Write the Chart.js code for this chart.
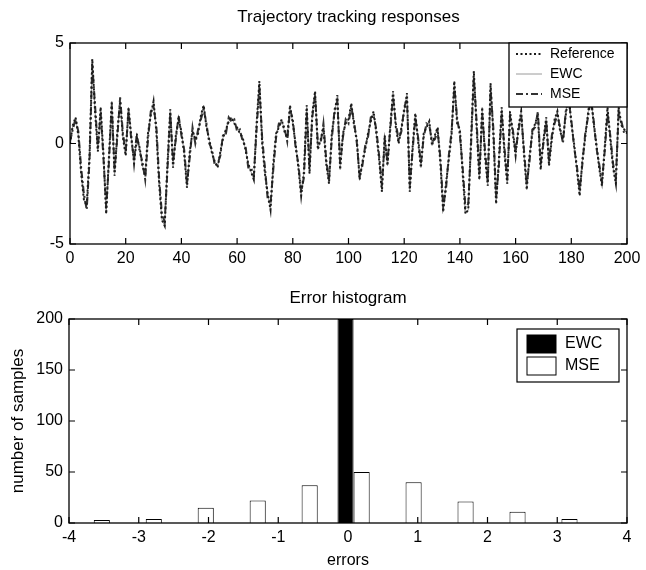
<!DOCTYPE html>
<html>
<head>
<meta charset="utf-8">
<style>
html,body{margin:0;padding:0;background:#fff;width:646px;height:570px;overflow:hidden}
.box{position:absolute;left:0;width:646px;height:285px}
</style>
<script src="https://cdn.jsdelivr.net/npm/chart.js@4.4.1/dist/chart.umd.min.js"></script>
</head>
<body>
<div class="box" style="top:0"><canvas id="c1" width="646" height="285"></canvas></div>
<div class="box" style="top:285px"><canvas id="c2" width="646" height="285"></canvas></div>
<script>
// ---------- DATA ----------
const timeSteps = Array.from({length: 201}, (_, i) => i);

const referenceValues = [
 0.0, 0.9, 1.3, 0.4,-1.5,-2.8,-3.1,-0.6, 4.2, 1.6,
-0.4, 1.8,-0.5,-3.5,-0.6, 2.1,-1.6, 0.6, 2.1, 0.3,
-0.6, 1.8, 0.4,-1.0, 0.3,-0.2,-1.1,-1.6, 0.5, 1.4,
 2.1, 0.6,-2.0,-3.8,-4.1,-1.0, 1.7,-1.2, 0.4, 1.2,
 0.6,-0.5,-2.2,-0.4, 0.6, 0.2, 0.5, 1.4, 1.9, 0.8,
 0.2,-0.5,-0.9,-1.2,-0.4, 0.3, 0.7, 1.1, 1.3, 1.0,
 0.8, 0.5, 0.3,-0.3,-1.0,-1.4,-1.8, 1.0, 3.1, 0.0,
-1.5,-2.5,-3.3,-1.0, 0.5, 0.8, 1.2, 0.6, 0.3, 1.9,
 1.0, 0.0,-1.2,-2.6,-1.4, 1.9,-1.5, 1.5, 2.6,-0.3,
 0.2, 0.8,-1.0,-2.0, 0.5, 1.5, 2.4,-1.3, 0.5, 1.0,
 1.2, 2.0, 0.9, 0.2,-1.8,-0.9,-0.3, 0.5, 1.1, 1.6,
 0.5,-0.8,-2.4, 0.4,-1.1, 0.9, 2.6, 0.8, 0.0, 0.8,
 1.6, 2.5,-2.4,-0.2, 1.5, 0.1,-1.2, 0.5, 0.8, 1.1,
-0.1, 0.4, 0.8,-1.0,-3.4,-2.0,-0.8, 0.4, 3.1, 1.0,
 0.7,-1.5,-3.5,-3.3, 0.2, 3.6, 0.8,-1.8, 1.8,-0.6,
-2.1, 3.0, 0.5,-3.0,-0.8, 1.8,-0.5,-2.0, 1.6, 0.5,
-0.6, 0.8, 1.6,-0.5,-2.3,-0.6, 0.5, 1.0, 1.4,-1.3,
 0.2, 1.3,-1.1, 0.2, 1.2, 1.6, 0.6, 0.2, 1.4, 2.5,
 1.0, 0.0,-1.3,-2.6,-0.8, 0.3, 1.5, 2.5, 1.0, 0.0,
-1.2,-2.1,-0.2, 1.8, 0.2,-1.2,-2.0, 1.8, 0.9, 0.7,
 0.5
];

// EWC tracks the reference exactly (its error histogram is all at 0)
const ewcValues = referenceValues;

const mseValues = [
 0.1, 0.7, 1.2, 0.6,-1.2,-2.5,-3.3,-0.9, 3.9, 1.9,
-0.2, 1.5,-0.7,-3.2,-0.9, 1.9,-1.3, 0.3, 2.3, 0.5,
-0.4, 1.6, 0.2,-0.8, 0.5,-0.4,-0.9,-1.8, 0.2, 1.6,
 1.8, 0.9,-1.7,-3.5,-3.9,-1.3, 1.5,-0.9, 0.2, 1.4,
 0.4,-0.3,-2.0,-0.7, 0.8, 0.0, 0.7, 1.2, 1.7, 1.0,
 0.0,-0.3,-1.1,-1.0,-0.6, 0.5, 0.5, 1.3, 1.1, 1.2,
 0.6, 0.7, 0.1,-0.1,-1.2,-1.2,-1.6, 0.7, 2.8, 0.3,
-1.2,-2.8,-3.0,-1.3, 0.3, 1.0, 1.0, 0.8, 0.1, 1.7,
 1.2,-0.2,-1.0,-2.4,-1.7, 1.6,-1.2, 1.3, 2.4, 0.0,
 0.0, 1.0,-0.8,-1.8, 0.2, 1.7, 2.1,-1.0, 0.3, 1.2,
 1.0, 1.8, 1.1, 0.0,-1.6,-1.1,-0.1, 0.3, 1.3, 1.4,
 0.7,-0.6,-2.1, 0.1,-0.9, 0.7, 2.3, 1.0, 0.2, 0.6,
 1.8, 2.2,-2.1,-0.4, 1.3, 0.3,-1.0, 0.3, 1.0, 0.9,
 0.1, 0.2, 0.6,-0.7,-3.1,-2.3,-0.6, 0.6, 2.8, 1.3,
 0.4,-1.2,-3.2,-3.0,-0.1, 3.3, 1.1,-1.5, 1.5,-0.3,
-1.9, 2.7, 0.8,-2.7,-1.1, 1.5,-0.2,-1.8, 1.3, 0.7,
-0.4, 0.6, 1.4,-0.3,-2.0,-0.9, 0.7, 0.8, 1.6,-1.0,
 0.0, 1.1,-0.9, 0.4, 1.0, 1.4, 0.8, 0.0, 1.6, 2.2,
 1.2,-0.2,-1.1,-2.3,-1.0, 0.5, 1.3, 2.2, 1.2,-0.2,
-1.0,-1.9,-0.4, 1.5, 0.4,-1.0,-1.7, 1.5, 1.1, 0.5,
 0.6
];

const errorBinCenters = [-3.645, -2.9, -2.155, -1.41, -0.665, 0.08, 0.825, 1.57, 2.315, 3.06];
const ewcErrorCounts  = [0, 0, 0, 0, 0, 200, 0, 0, 0, 0];
const mseErrorCounts  = [3, 4, 15, 22, 37, 50, 40, 21, 11, 4];

const topXTicks = [0, 20, 40, 60, 80, 100, 120, 140, 160, 180, 200];
const topYTicks = [-5, 0, 5];
const histXTicks = [-4, -3, -2, -1, 0, 1, 2, 3, 4];
const histYTicks = [0, 50, 100, 150, 200];

// ---------- STYLE ----------
const FONT = '"Liberation Sans", Arial, Helvetica, sans-serif';
const INK = '#1a1a1a';
Chart.defaults.font.family = FONT;
Chart.defaults.color = '#000';

const framePlugin = {
  id: 'frame',
  afterDatasetsDraw(chart) {
    const {ctx, chartArea: a, scales} = chart;
    ctx.save();
    ctx.strokeStyle = '#000';
    ctx.lineWidth = 1.3;
    ctx.strokeRect(a.left, a.top, a.right - a.left, a.bottom - a.top);
    const L = 6;
    ctx.lineWidth = 1.2;
    ctx.beginPath();
    scales.x.ticks.forEach(t => {
      const p = scales.x.getPixelForValue(t.value);
      ctx.moveTo(p, a.bottom); ctx.lineTo(p, a.bottom - L);
      ctx.moveTo(p, a.top); ctx.lineTo(p, a.top + L);
    });
    scales.y.ticks.forEach(t => {
      const p = scales.y.getPixelForValue(t.value);
      ctx.moveTo(a.left, p); ctx.lineTo(a.left + L, p);
      ctx.moveTo(a.right, p); ctx.lineTo(a.right - L, p);
    });
    ctx.stroke();
    ctx.restore();
  }
};

const lineLegendPlugin = {
  id: 'lineLegend',
  afterDraw(chart) {
    if (chart.canvas.id !== 'c1') return;
    const {ctx, chartArea: a} = chart;
    const w = 118, h = 64;
    const x = a.right - w, y = a.top;
    ctx.save();
    ctx.fillStyle = '#fff';
    ctx.fillRect(x, y, w, h);
    ctx.strokeStyle = '#000';
    ctx.lineWidth = 1.3;
    ctx.strokeRect(x, y, w, h);
    ctx.font = '14px ' + FONT;
    ctx.textBaseline = 'middle';
    chart.data.datasets.forEach((ds, i) => {
      const ly = y + 11 + i * 20;
      ctx.save();
      ctx.strokeStyle = ds.borderColor;
      ctx.lineWidth = ds.borderWidth;
      ctx.setLineDash(ds.borderDash || []);
      ctx.beginPath();
      ctx.moveTo(x + 7, ly); ctx.lineTo(x + 33, ly);
      ctx.stroke();
      ctx.restore();
      ctx.fillStyle = '#000';
      ctx.fillText(ds.label, x + 41, ly);
    });
    ctx.restore();
  }
};

const barLegendPlugin = {
  id: 'barLegend',
  afterDraw(chart) {
    if (chart.canvas.id !== 'c2') return;
    const {ctx, chartArea: a} = chart;
    const w = 102, h = 53;
    const x = a.right - w - 8, y = a.top + 10;
    ctx.save();
    ctx.fillStyle = '#fff';
    ctx.fillRect(x, y, w, h);
    ctx.strokeStyle = '#000';
    ctx.lineWidth = 1.2;
    ctx.strokeRect(x, y, w, h);
    ctx.font = '16px ' + FONT;
    ctx.textBaseline = 'middle';
    chart.data.datasets.forEach((ds, i) => {
      const sy = y + 6 + i * 22;
      ctx.fillStyle = ds.backgroundColor;
      ctx.fillRect(x + 10, sy, 29, 18);
      ctx.strokeStyle = '#000';
      ctx.lineWidth = 1;
      ctx.strokeRect(x + 10, sy, 29, 18);
      ctx.fillStyle = '#000';
      ctx.fillText(ds.label, x + 48, sy + 9);
    });
    ctx.restore();
  }
};

function fixedTicks(values) {
  return function(scale) {
    scale.ticks = values.map(v => ({value: v}));
  };
}

const noGrid = {display: false, drawTicks: false, tickLength: 0};

// ---------- TOP CHART ----------
const toPts = arr => timeSteps.map((t, i) => ({x: t, y: arr[i]}));

new Chart(document.getElementById('c1'), {
  type: 'line',
  data: {
    datasets: [
      {label: 'Reference', data: toPts(referenceValues), borderColor: INK, borderWidth: 2,
       borderDash: [2, 2.5], pointRadius: 0, tension: 0, order: 0},
      {label: 'EWC', data: toPts(ewcValues), borderColor: '#9a9a9a', borderWidth: 1,
       pointRadius: 0, tension: 0, order: 2},
      {label: 'MSE', data: toPts(mseValues), borderColor: '#333', borderWidth: 2,
       borderDash: [7, 3, 2, 3], pointRadius: 0, tension: 0, order: 1}
    ]
  },
  options: {
    responsive: false,
    animation: false,
    events: [],
    layout: {padding: {left: 0, right: 19, top: 0, bottom: 0}},
    plugins: {
      legend: {display: false},
      tooltip: {enabled: false},
      title: {display: true, text: 'Trajectory tracking responses', fullSize: false,
              color: '#000', font: {size: 17, weight: 'normal', lineHeight: 1.2},
              padding: {top: 7, bottom: 15.6}}
    },
    scales: {
      x: {type: 'linear', min: 0, max: 200,
          afterBuildTicks: fixedTicks(topXTicks),
          afterFit: s => { s.height = 41; },
          grid: noGrid, border: {display: false},
          ticks: {padding: 5, color: '#000', font: {size: 16}, maxRotation: 0}},
      y: {type: 'linear', min: -5, max: 5,
          afterBuildTicks: fixedTicks(topYTicks),
          afterFit: s => { s.width = 70; },
          grid: noGrid, border: {display: false},
          ticks: {padding: 6, color: '#000', font: {size: 16}}}
    }
  },
  plugins: [framePlugin, lineLegendPlugin]
});

// ---------- BOTTOM CHART ----------
new Chart(document.getElementById('c2'), {
  type: 'bar',
  data: {
    datasets: [
      {label: 'EWC', data: errorBinCenters.map((c, i) => ({x: c, y: ewcErrorCounts[i]})),
       backgroundColor: '#000', borderColor: '#000', borderWidth: 1,
       barPercentage: 1, categoryPercentage: 0.62},
      {label: 'MSE', data: errorBinCenters.map((c, i) => ({x: c, y: mseErrorCounts[i]})),
       backgroundColor: '#fff', borderColor: '#000', borderWidth: 1,
       barPercentage: 1, categoryPercentage: 0.62}
    ]
  },
  options: {
    responsive: false,
    animation: false,
    events: [],
    layout: {padding: {left: 0, right: 19, top: 0, bottom: 0}},
    plugins: {
      legend: {display: false},
      tooltip: {enabled: false},
      title: {display: true, text: 'Error histogram', fullSize: false,
              color: '#000', font: {size: 17, weight: 'normal', lineHeight: 1.2},
              padding: {top: 3, bottom: 10.6}}
    },
    scales: {
      x: {type: 'linear', min: -4, max: 4, offset: false,
          afterBuildTicks: fixedTicks(histXTicks),
          afterFit: s => { s.height = 47; },
          grid: noGrid, border: {display: false},
          ticks: {padding: 5, color: '#000', font: {size: 16}, maxRotation: 0},
          title: {display: true, text: 'errors', color: '#000', font: {size: 16},
                  padding: {top: 0, bottom: 0}}},
      y: {type: 'linear', min: 0, max: 200,
          afterBuildTicks: fixedTicks(histYTicks),
          afterFit: s => { s.width = 69; },
          grid: noGrid, border: {display: false},
          ticks: {padding: 6, color: '#000', font: {size: 16}},
          title: {display: true, text: 'number of samples', color: '#000', font: {size: 17},
                  padding: {top: 8, bottom: 0}}}
    }
  },
  plugins: [framePlugin, barLegendPlugin]
});
</script>
</body>
</html>
